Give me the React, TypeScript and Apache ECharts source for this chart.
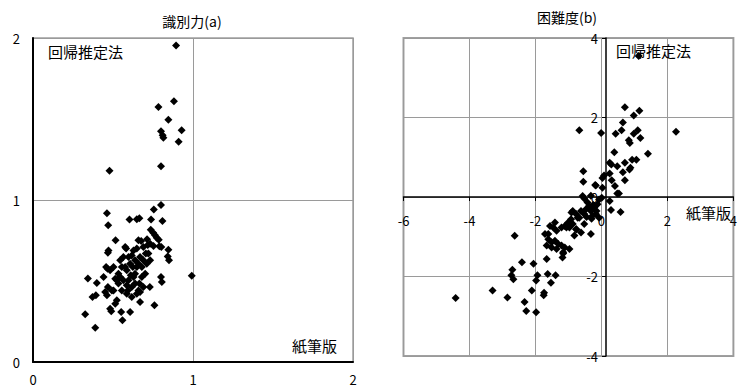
import { useEffect, useRef } from "react";
import * as echarts from "echarts";

// 識別力(a): 紙筆版 (x) vs 回帰推定法 (y)
const paperA = [
  0.894, 0.881, 0.784, 0.846, 0.929, 0.8, 0.81, 0.815, 0.91, 0.8, 0.478, 0.992,
  0.326, 0.389, 0.343, 0.399, 0.372, 0.393, 0.441, 0.457, 0.466, 0.451, 0.462, 0.468,
  0.472, 0.468, 0.516, 0.482, 0.489, 0.514, 0.524, 0.503, 0.524, 0.534, 0.545, 0.551,
  0.559, 0.576, 0.582, 0.565, 0.576, 0.586, 0.597, 0.586, 0.607, 0.593, 0.617, 0.611,
  0.624, 0.638, 0.628, 0.649, 0.659, 0.669, 0.68, 0.68, 0.665, 0.659, 0.669, 0.69,
  0.701, 0.711, 0.721, 0.732, 0.713, 0.717, 0.732, 0.736, 0.751, 0.763, 0.773, 0.786,
  0.753, 0.79, 0.802, 0.759, 0.73, 0.8, 0.805, 0.846, 0.842, 0.85, 0.809, 0.738,
  0.755, 0.8, 0.649, 0.665, 0.603, 0.47, 0.462, 0.676, 0.69, 0.628, 0.617, 0.649,
  0.669, 0.555, 0.534, 0.545, 0.514, 0.493, 0.482, 0.503, 0.597, 0.617, 0.565, 0.586,
  0.638, 0.649, 0.69, 0.705, 0.638, 0.555, 0.607, 0.659,
];
const regA = [
  1.954, 1.61, 1.574, 1.496, 1.43, 1.424, 1.4, 1.385, 1.36, 1.208, 1.181, 0.533,
  0.294, 0.212, 0.516, 0.488, 0.401, 0.412, 0.525, 0.586, 0.576, 0.432, 0.412, 0.463,
  0.689, 0.675, 0.751, 0.329, 0.313, 0.36, 0.381, 0.442, 0.504, 0.545, 0.628, 0.309,
  0.257, 0.71, 0.7, 0.648, 0.586, 0.566, 0.504, 0.422, 0.309, 0.442, 0.463, 0.535,
  0.586, 0.628, 0.689, 0.7, 0.751, 0.648, 0.586, 0.525, 0.484, 0.442, 0.37, 0.463,
  0.545, 0.607, 0.669, 0.628, 0.757, 0.722, 0.73, 0.817, 0.798, 0.782, 0.767, 0.755,
  0.716, 0.714, 0.71, 0.35, 0.463, 0.525, 0.494, 0.693, 0.652, 0.628, 0.87, 0.879,
  0.942, 0.969, 0.881, 0.887, 0.879, 0.844, 0.918, 0.747, 0.71, 0.525, 0.401, 0.422,
  0.432, 0.586, 0.484, 0.525, 0.514, 0.442, 0.566, 0.586, 0.648, 0.658, 0.504, 0.473,
  0.545, 0.586, 0.628, 0.669, 0.484, 0.442, 0.607, 0.607,
];

// 困難度(b): 紙筆版 (x) vs 回帰推定法 (y)
const paperB = [
  1.13, 0.71, 1.15, 0.98, 0.65, 0.61, 0.43, -0.67, -0.01, 1.1, 0.98, 1.18,
  0.83, 0.86, 2.26, 0.39, 1.41, 0.25, 0.3, 0.48, 0.71, 0.93, 1.06, 0.88,
  0.85, 0.65, -0.55, -0.55, 0.08, 0.03, 0.25, 0.31, 0.41, 0.71, -0.17, 0.03,
  0.48, 0.53, 0.01, 0.25, 0.29, 0.58, -0.57, -0.19, -0.52, -0.32, -0.07,
  -0.42, -0.37, -0.47, -0.32, -0.22, -0.12, -0.17, -0.07, -0.27, -0.52, -0.62, -0.67,
  -0.77, -0.87, -0.92, -1.01, -0.87, -1.06, -1.11, -0.97, -0.77, -0.62, -0.52, -0.32,
  -0.82, -1.41, -1.56, -1.46, -1.61, -1.36, -1.21, -1.71, -1.61, -1.51, -1.41, -1.66,
  -1.51, -1.31, -1.36, -1.21, -1.11, -0.97, -1.16, -1.66, -2.41, -2.06,
  -4.42, -3.3, -2.63, -2.7, -2.67, -2.73, -2.85, -2.33, -2.28, -1.98, -2.11, -1.98,
  -1.94, -1.74, -1.75, -1.63, -1.53, -1.39, -1.18, -1.16,
  -0.25, -0.15, -0.3, -0.45, -0.72, -0.91, -1.01, -0.76,
];
const regB = [
  3.55, 2.26, 2.17, 2.05, 1.875, 1.68, 1.59, 1.68, 1.61, 1.68, 1.59, 1.485,
  1.43, 1.36, 1.64, 1.125, 1.09, 0.86, 0.82, 0.775, 0.86, 0.94, 0.94, 0.735,
  0.69, 0.625, 0.65, 0.385, 0.54, 0.475, 0.59, 0.42, 0.275, 0.42, 0.29, 0.235,
  0.09, 0.085, -0.02, -0.1, -0.325, -0.375, 0.025, 0.3, -0.04, 0.03, -0.06,
  -0.14, -0.225, -0.31, -0.35, -0.27, -0.18, -0.43, -0.52, -0.47, -0.43, -0.35, -0.52,
  -0.43, -0.35, -0.56, -0.64, -0.68, -0.77, -0.73, -0.77, -0.81, -0.89, -0.68, -0.93,
  -0.97, -0.64, -0.73, -0.77, -0.93, -0.85, -0.77, -0.93, -1.06, -1.14, -1.1, -1.22,
  -1.27, -1.18, -1.31, -1.22, -1.27, -1.31, -1.39, -1.56, -1.64, -1.68,
  -2.54, -2.35, -0.975, -1.83, -2.07, -1.97, -2.53, -2.64, -2.87, -2.9, -2.35, -2.1,
  -1.97, -2.41, -2.47, -1.94, -2.16, -1.97, -1.52, -1.42,
  -0.2, -0.35, -0.55, -0.5, -0.52, -0.39, -0.72, -0.81,
];

// axis ranges [min, max, interval]
const rangeA = [0, 2, 1];
const rangeBx = [-6, 4, 2];
const rangeBy = [-4, 4, 2];

const CJK = '"Noto Sans CJK JP", "Noto Sans", sans-serif';

const pairs = (xs: number[], ys: number[]) => xs.map((x, i) => [x, ys[i]]);

// right-hand plot box
const gridB = { left: 403.5, top: 38, width: 337.5, height: 318 };
// distance from the box's bottom / left edge to the origin, used to move the (b) axes onto it
const bZeroFromBottom = (gridB.height * (0 - rangeBy[0])) / (rangeBy[1] - rangeBy[0]);
const bZeroFromLeft = (gridB.width * (0 - rangeBx[0])) / (rangeBx[1] - rangeBx[0]);

const GRID_GRAY = "#9a9a9a";
const grayLine = () => ({ show: true, lineStyle: { color: GRID_GRAY, width: 1, type: "solid" as const } });

const textEl = (text: string, x: number, y: number, size: number, align: string) => ({
  type: "text", x, y, z: 200,
  style: { text, font: `${size}px ${CJK}`, fill: "#000", align, verticalAlign: "middle" },
});

export default function App() {
  const ref = useRef<HTMLDivElement>(null);

  useEffect(() => {
    if (!ref.current) return;
    const chart = echarts.init(ref.current, undefined, { renderer: "svg" });

    const label = { color: "#000", fontSize: 13, fontFamily: CJK };

    chart.setOption({
      animation: false,
      backgroundColor: "#fff",
      grid: [
        { left: 33, top: 38, width: 320, height: 324, show: true, borderColor: "#a0a0a0", borderWidth: 1.5 },
        { ...gridB, show: true, borderColor: "#a0a0a0", borderWidth: 2 },
      ],
      xAxis: [
        {
          gridIndex: 0, type: "value", min: rangeA[0], max: rangeA[1], interval: rangeA[2],
          axisLine: { show: true, onZero: false, lineStyle: { color: "#000", width: 2 } },
          axisTick: { show: false },
          splitLine: grayLine(),
          axisLabel: { ...label, margin: 11 },
        },
        {
          gridIndex: 1, type: "value", min: rangeBx[0], max: rangeBx[1], interval: rangeBx[2],
          position: "bottom", offset: -bZeroFromBottom,
          axisLine: { show: true, onZero: false, lineStyle: { color: "#000", width: 1.5 } },
          axisTick: { show: true, length: 4, lineStyle: { color: "#000" } },
          splitLine: grayLine(),
          axisLabel: { ...label, margin: 17 },
        },
      ],
      yAxis: [
        {
          gridIndex: 0, type: "value", min: rangeA[0], max: rangeA[1], interval: rangeA[2],
          axisLine: { show: true, onZero: false, lineStyle: { color: "#000", width: 2 } },
          axisTick: { show: false },
          splitLine: grayLine(),
          axisLabel: { ...label, margin: 13 },
        },
        {
          gridIndex: 1, type: "value", min: rangeBy[0], max: rangeBy[1], interval: rangeBy[2],
          position: "left", offset: -bZeroFromLeft,
          axisLine: { show: true, onZero: false, lineStyle: { color: "#000", width: 1.5 } },
          axisTick: { show: true, length: 4, lineStyle: { color: "#000" } },
          splitLine: grayLine(),
          axisLabel: { ...label, margin: 8 },
        },
      ],
      series: [
        {
          type: "scatter", xAxisIndex: 0, yAxisIndex: 0,
          symbol: "diamond", symbolSize: 8, z: 5,
          itemStyle: { color: "#000", opacity: 1 },
          data: pairs(paperA, regA),
        },
        {
          type: "scatter", xAxisIndex: 1, yAxisIndex: 1,
          symbol: "diamond", symbolSize: 8, z: 5,
          itemStyle: { color: "#000", opacity: 1 },
          data: pairs(paperB, regB),
        },
      ],
      graphic: [
        textEl("識別力(a)", 192, 21, 14, "center"),
        textEl("困難度(b)", 567, 17, 14, "center"),
        textEl("回帰推定法", 48, 51, 15, "left"),
        textEl("紙筆版", 337, 345, 15, "right"),
        textEl("回帰推定法", 616, 50, 15, "left"),
        textEl("紙筆版", 686, 212, 15, "left"),
      ],
    });

    return () => chart.dispose();
  }, []);

  return <div ref={ref} style={{ width: 740, height: 390, position: "absolute", left: 0, top: 0 }} />;
}
